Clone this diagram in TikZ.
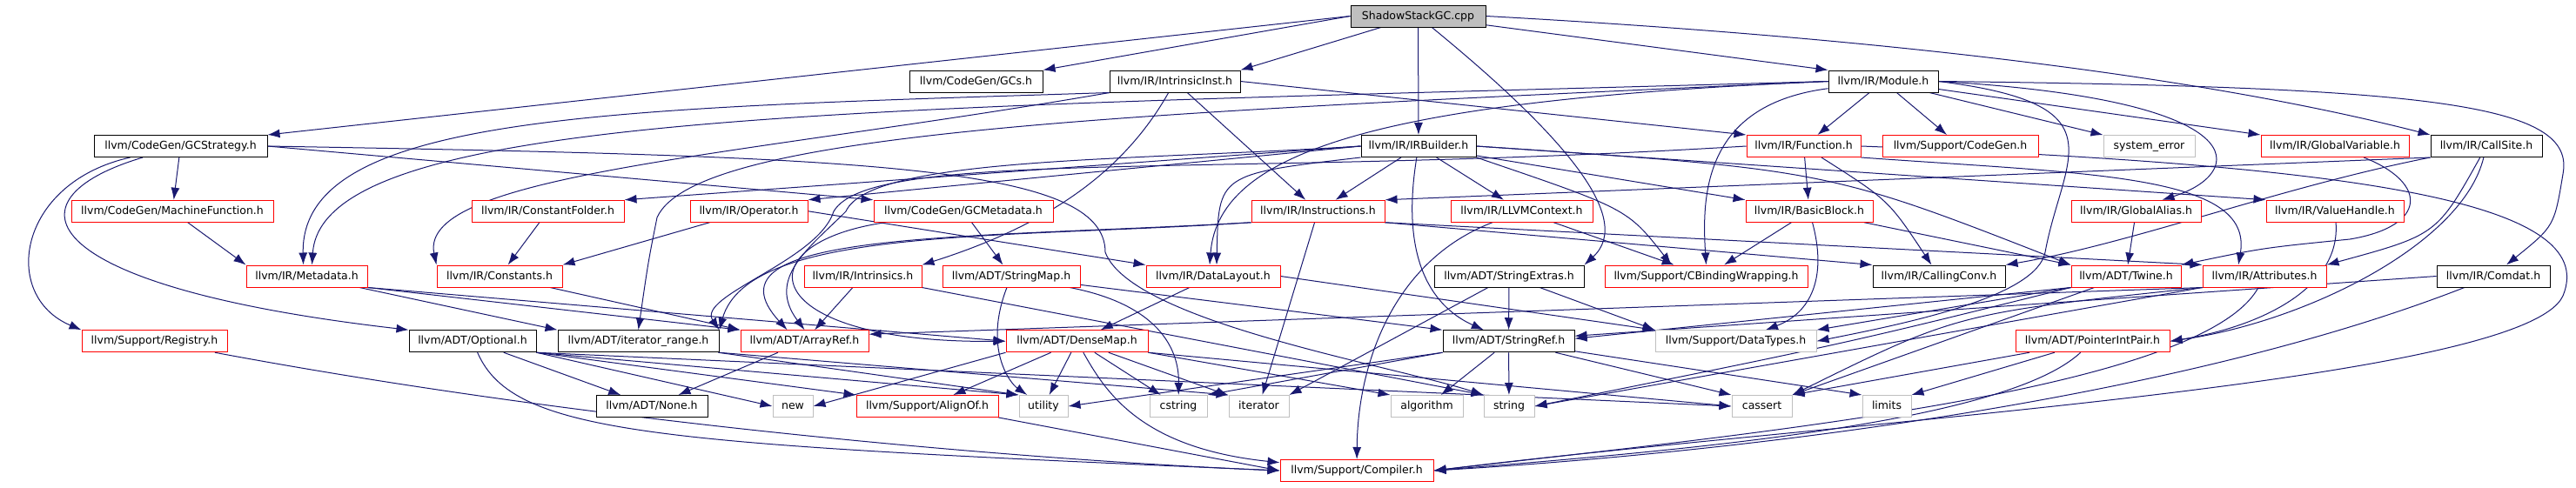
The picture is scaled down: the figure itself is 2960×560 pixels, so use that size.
\documentclass[tikz,border=0pt]{standalone}
\usepackage{fontspec}
\setmainfont{DejaVu Sans}
\usetikzlibrary{arrows.meta,backgrounds}
\definecolor{depblue}{HTML}{191970}
\definecolor{sysgray}{HTML}{BFBFBF}
\begin{document}
\begin{tikzpicture}[x=1pt, y=-1pt,
	hdr/.style={shape=rectangle, draw=black, line width=1pt, fill=white, minimum height=25pt, inner xsep=2pt, inner ysep=0pt, text height=9.5pt, text depth=2.5pt, font=\fontsize{12.5pt}{15pt}\selectfont},
	redhdr/.style={hdr, draw=red},
	syshdr/.style={hdr, draw=sysgray},
	dep/.style={draw=depblue, line width=1pt, -{Latex[length=14pt, width=10pt]}}]
	\useasboundingbox (0,0) rectangle (2960,560);
	\node[hdr, fill=sysgray, minimum width=155pt] (ssgc) at (1629.5,18.5) {ShadowStackGC.cpp};
	\node[hdr, minimum width=153pt] (gcs) at (1121.5,93.5) {llvm/CodeGen/GCs.h};
	\node[hdr, minimum width=150pt] (intrinst) at (1350,93.5) {llvm/IR/IntrinsicInst.h};
	\node[hdr, minimum width=126pt] (module) at (2164,93.5) {llvm/IR/Module.h};
	\node[hdr, minimum width=199pt] (gcstrategy) at (207.5,168) {llvm/CodeGen/GCStrategy.h};
	\node[hdr, minimum width=132pt] (irbuilder) at (1630,168) {llvm/IR/IRBuilder.h};
	\node[redhdr, minimum width=131pt] (function) at (2072.5,168) {llvm/IR/Function.h};
	\node[redhdr, minimum width=179pt] (supcodegen) at (2252.5,168) {llvm/Support/CodeGen.h};
	\node[syshdr, minimum width=105pt] (syserr) at (2469.5,168) {system\_error};
	\node[redhdr, minimum width=170pt] (globalvar) at (2683,168) {llvm/IR/GlobalVariable.h};
	\node[hdr, minimum width=128pt] (callsite) at (2857,168) {llvm/IR/CallSite.h};
	\node[redhdr, minimum width=232pt] (machinefn) at (198,242.75) {llvm/CodeGen/MachineFunction.h};
	\node[redhdr, minimum width=175pt] (constfolder) at (629.5,242.75) {llvm/IR/ConstantFolder.h};
	\node[redhdr, minimum width=135pt] (operator) at (860.5,242.75) {llvm/IR/Operator.h};
	\node[redhdr, minimum width=206pt] (gcmetadata) at (1107,242.75) {llvm/CodeGen/GCMetadata.h};
	\node[redhdr, minimum width=153pt] (instructions) at (1514.5,242.75) {llvm/IR/Instructions.h};
	\node[redhdr, minimum width=163pt] (llvmcontext) at (1748.5,242.75) {llvm/IR/LLVMContext.h};
	\node[redhdr, minimum width=146pt] (basicblock) at (2079,242.75) {llvm/IR/BasicBlock.h};
	\node[redhdr, minimum width=149pt] (globalalias) at (2454.5,242.75) {llvm/IR/GlobalAlias.h};
	\node[redhdr, minimum width=158pt] (valuehandle) at (2683,242.75) {llvm/IR/ValueHandle.h};
	\node[redhdr, minimum width=139pt] (metadata) at (352.5,317.5) {llvm/IR/Metadata.h};
	\node[redhdr, minimum width=144pt] (constants) at (574,317.5) {llvm/IR/Constants.h};
	\node[redhdr, minimum width=135pt] (intrinsics) at (991.5,317.5) {llvm/IR/Intrinsics.h};
	\node[redhdr, minimum width=158pt] (stringmap) at (1162,317.5) {llvm/ADT/StringMap.h};
	\node[redhdr, minimum width=154pt] (datalayout) at (1394,317.5) {llvm/IR/DataLayout.h};
	\node[hdr, minimum width=172pt] (stringextras) at (1734,317.5) {llvm/ADT/StringExtras.h};
	\node[redhdr, minimum width=233pt] (cbinding) at (1960.5,317.5) {llvm/Support/CBindingWrapping.h};
	\node[hdr, minimum width=152pt] (callingconv) at (2228,317.5) {llvm/IR/CallingConv.h};
	\node[redhdr, minimum width=126pt] (twine) at (2443,317.5) {llvm/ADT/Twine.h};
	\node[redhdr, minimum width=142pt] (attributes) at (2602,317.5) {llvm/IR/Attributes.h};
	\node[hdr, minimum width=130pt] (comdat) at (2865,317.5) {llvm/IR/Comdat.h};
	\node[redhdr, minimum width=167pt] (registry) at (177.5,392.25) {llvm/Support/Registry.h};
	\node[hdr, minimum width=146pt] (optional) at (543,392.25) {llvm/ADT/Optional.h};
	\node[hdr, minimum width=185pt] (iterrange) at (733.5,392.25) {llvm/ADT/iterator\_range.h};
	\node[redhdr, minimum width=147pt] (arrayref) at (924.5,392.25) {llvm/ADT/ArrayRef.h};
	\node[redhdr, minimum width=163pt] (densemap) at (1237.5,392.25) {llvm/ADT/DenseMap.h};
	\node[hdr, minimum width=151pt] (stringref) at (1733.5,392.25) {llvm/ADT/StringRef.h};
	\node[syshdr, minimum width=185pt] (datatypes) at (1994.5,392.25) {llvm/Support/DataTypes.h};
	\node[redhdr, minimum width=177pt] (pointerintpair) at (2404.5,392.25) {llvm/ADT/PointerIntPair.h};
	\node[hdr, minimum width=128pt] (none) at (749,467) {llvm/ADT/None.h};
	\node[syshdr, minimum width=46pt] (new) at (911,467) {new};
	\node[redhdr, minimum width=163pt] (alignof) at (1065.5,467) {llvm/Support/AlignOf.h};
	\node[syshdr, minimum width=56pt] (utility) at (1199,467) {utility};
	\node[syshdr, minimum width=66pt] (cstring) at (1354,467) {cstring};
	\node[syshdr, minimum width=69pt] (iterator) at (1446.5,467) {iterator};
	\node[syshdr, minimum width=83pt] (algorithm) at (1639.5,467) {algorithm};
	\node[syshdr, minimum width=58pt] (string) at (1734,467) {string};
	\node[syshdr, minimum width=69pt] (cassert) at (2024.5,467) {cassert};
	\node[syshdr, minimum width=56pt] (limits) at (2168,467) {limits};
	\node[redhdr, minimum width=176pt] (compiler) at (1559,541) {llvm/Support/Compiler.h};
	\begin{scope}[on background layer]
	\fill[white] (0,0) rectangle (2960,560);
	\draw[dep] (ssgc.west) -- (gcs.north east);
	\draw[dep] (ssgc.west) -- (gcstrategy.north east);
	\draw[dep] (ssgc) -- (intrinst.north east);
	\draw[dep] (ssgc) -- (irbuilder);
	\draw[dep] (ssgc) -- (module.north west);
	\draw[dep] (ssgc.east) .. controls (2100,40) and (2500,80) .. (callsite.north west);
	\draw[dep] (ssgc) .. controls (1790,150) and (1880,250) .. (stringextras.north east);
	\draw[dep] (gcstrategy) -- (machinefn);
	\draw[dep] (gcstrategy) .. controls (20,210) and (0,340) .. (registry.north west);
	\draw[dep] (gcstrategy) .. controls (0,230) and (40,330) .. (optional.north west);
	\draw[dep] (gcstrategy.east) -- (gcmetadata.north west);
	\draw[dep] (gcstrategy.east) .. controls (1000,180) and (1270,190) .. (1270,290) .. controls (1300,370) and (1600,420) .. (string.north west);
	\draw[dep] (intrinst) .. controls (850,180) and (480,200) .. (constants.north west);
	\draw[dep] (intrinst.east) -- (function.north west);
	\draw[dep] (intrinst) -- (instructions);
	\draw[dep] (intrinst) .. controls (1290,200) and (1200,260) .. (intrinsics.north east);
	\draw[dep] (intrinst.south west) .. controls (700,125) and (345,130) .. ([xshift=-4pt]metadata.north);
	\draw[dep] (module) -- (function);
	\draw[dep] (module) -- (supcodegen);
	\draw[dep] (module) -- (syserr);
	\draw[dep] (module) -- (globalvar.north west);
	\draw[dep] (module.east) .. controls (2600,115) and (2580,200) .. ([xshift=30pt]globalalias.north);
	\draw[dep] (module.east) .. controls (2800,100) and (2960,120) .. (2945,200) .. controls (2935,260) .. ([xshift=15pt]comdat.north);
	\draw[dep] (module) .. controls (1960,120) and (1955,220) .. (cbinding.north);
	\draw[dep] (module.east) .. controls (2440,120) and (2370,180) .. (2350,290) .. controls (2340,340) and (2200,370) .. (datatypes.east);
	\draw[dep] (module.west) .. controls (1600,115) and (1400,170) .. ([xshift=-4pt]datalayout.north);
	\draw[dep] (module.west) .. controls (1300,130) and (800,150) .. (755,250) .. controls (745,300) .. (iterrange.north);
	\draw[dep] (module.west) .. controls (1000,125) and (370,125) .. ([xshift=6pt]metadata.north);
	\draw[dep] (irbuilder) -- (instructions);
	\draw[dep] (irbuilder) -- (llvmcontext);
	\draw[dep] (irbuilder) -- (basicblock.north west);
	\draw[dep] (irbuilder.east) -- (valuehandle.north west);
	\draw[dep] (irbuilder.west) -- (constfolder.north east);
	\draw[dep] (irbuilder.west) -- (operator.north east);
	\draw[dep] (irbuilder.south west) .. controls (1400,200) .. ([xshift=4pt]datalayout.north);
	\draw[dep] (irbuilder.west) .. controls (1300,185) and (1000,180) .. (972,243) .. controls (930,285) and (880,320) .. (arrayref.north);
	\draw[dep] (irbuilder) .. controls (1610,290) and (1640,350) .. (stringref);
	\draw[dep] (irbuilder.east) .. controls (2100,195) .. (twine.north west);
	\draw[dep] (irbuilder.south east) .. controls (1870,240) .. ([xshift=-40pt]cbinding.north);
	\draw[dep] (function) -- (basicblock);
	\draw[dep] (function) .. controls (2170,230) .. (callingconv);
	\draw[dep] (function.south east) .. controls (2400,200) and (2590,200) .. ([xshift=-30pt]attributes.north);
	\draw[dep] (function.west) .. controls (1400,205) and (1000,170) .. (958,243) .. controls (940,300) and (800,340) .. (iterrange.north east);
	\draw[dep] (function.east) .. controls (2700,190) and (2990,230) .. (2945,340) .. controls (2900,440) and (2100,485) .. (compiler.east);
	\draw[dep] (machinefn) -- (metadata.north west);
	\draw[dep] (constfolder) -- (constants);
	\draw[dep] (operator) -- (constants.north east);
	\draw[dep] (operator.east) -- (datalayout.north west);
	\draw[dep] (gcmetadata) -- (stringmap);
	\draw[dep] (gcmetadata) .. controls (850,280) and (870,395) .. (densemap.west);
	\draw[dep] (instructions.south west) .. controls (1100,275) and (800,265) .. ([xshift=-20pt]arrayref.north);
	\draw[dep] (instructions.south west) .. controls (1150,275) and (860,260) .. (iterrange.north east);
	\draw[dep] (instructions) -- (iterator);
	\draw[dep] (instructions.south east) -- (callingconv.north west);
	\draw[dep] (instructions.south east) -- (attributes.north west);
	\draw[dep] (llvmcontext) -- (cbinding);
	\draw[dep] (llvmcontext) .. controls (1600,300) and (1560,420) .. (compiler);
	\draw[dep] (basicblock) -- (cbinding);
	\draw[dep] (basicblock) .. controls (2100,320) and (2080,360) .. (datatypes);
	\draw[dep] (basicblock) -- (twine.north west);
	\draw[dep] (globalalias) -- (twine);
	\draw[dep] (globalvar) .. controls (2790,210) and (2790,260) .. (2700,275) .. controls (2600,285) .. (twine.north east);
	\draw[dep] (valuehandle) .. controls (2690,330) and (2600,375) .. (pointerintpair.east);
	\draw[dep] (callsite.south west) -- (instructions.north east);
	\draw[dep] (callsite.south west) .. controls (2620,215) and (2450,280) .. (callingconv.north east);
	\draw[dep] (callsite) .. controls (2800,270) .. (attributes.north east);
	\draw[dep] (callsite) .. controls (2830,280) and (2650,370) .. (pointerintpair.east);
	\draw[dep] (metadata.south east) -- (arrayref.north west);
	\draw[dep] (metadata.south east) -- (densemap.west);
	\draw[dep] (metadata) -- (iterrange.north west);
	\draw[dep] (constants) -- (arrayref.north west);
	\draw[dep] (intrinsics) -- (arrayref);
	\draw[dep] (intrinsics.south east) -- (string.north west);
	\draw[dep] (stringmap) -- (stringref.north west);
	\draw[dep] (stringmap) .. controls (1330,350) and (1355,400) .. (cstring);
	\draw[dep] (stringmap) .. controls (1130,400) and (1160,440) .. (utility);
	\draw[dep] (datalayout) -- (densemap);
	\draw[dep] (datalayout.east) -- (datatypes.north west);
	\draw[dep] (stringextras) -- (stringref);
	\draw[dep] (stringextras) -- (datatypes.north west);
	\draw[dep] (stringextras) -- (iterator.north east);
	\draw[dep] (twine.south west) -- ([yshift=3pt]stringref.east);
	\draw[dep] (twine.south west) -- (datatypes.north east);
	\draw[dep] (twine) -- (cassert.north east);
	\draw[dep] (twine.south west) .. controls (2120,395) .. (string.east);
	\draw[dep] (attributes.south west) -- ([yshift=8pt]arrayref.east);
	\draw[dep] (attributes.south west) .. controls (2250,360) .. (cassert.north east);
	\draw[dep] (attributes.south west) -- (string.east);
	\draw[dep] (attributes) .. controls (2530,450) and (2000,500) .. (compiler.east);
	\draw[dep] (comdat.west) -- ([yshift=6pt]stringref.east);
	\draw[dep] (comdat) .. controls (2500,460) and (2000,520) .. (compiler.east);
	\draw[dep] (registry) .. controls (700,490) and (1200,530) .. (compiler.west);
	\draw[dep] (optional) -- (none);
	\draw[dep] (optional.south east) -- (new.west);
	\draw[dep] (optional.south east) -- (alignof.north west);
	\draw[dep] (optional.south east) -- (utility.north west);
	\draw[dep] (optional.south east) -- (cassert.west);
	\draw[dep] (optional) .. controls (590,500) and (750,510) .. (compiler.west);
	\draw[dep] (iterrange) -- (utility.north west);
	\draw[dep] (iterrange.south east) -- (iterator.north west);
	\draw[dep] (arrayref) -- (none);
	\draw[dep] (densemap.south west) -- (new.east);
	\draw[dep] (densemap) -- (alignof);
	\draw[dep] (densemap) -- (utility);
	\draw[dep] (densemap) -- (cstring);
	\draw[dep] (densemap) -- (iterator);
	\draw[dep] (densemap.south east) -- (algorithm.north west);
	\draw[dep] (densemap.south east) -- (cassert.west);
	\draw[dep] (densemap) .. controls (1270,450) and (1310,515) .. (compiler);
	\draw[dep] (stringref) -- (algorithm);
	\draw[dep] (stringref) -- (string);
	\draw[dep] (stringref) -- (cassert.north west);
	\draw[dep] (stringref) -- (limits.north west);
	\draw[dep] (stringref.south west) -- (utility.east);
	\draw[dep] (stringref.south west) -- (cstring.north east);
	\draw[dep] (pointerintpair) -- (cassert.north east);
	\draw[dep] (pointerintpair) -- (limits.north east);
	\draw[dep] (pointerintpair) .. controls (2300,490) and (1900,520) .. (compiler.east);
	\draw[dep] (alignof.south east) -- (compiler.west);
	\end{scope}
\end{tikzpicture}
\end{document}
